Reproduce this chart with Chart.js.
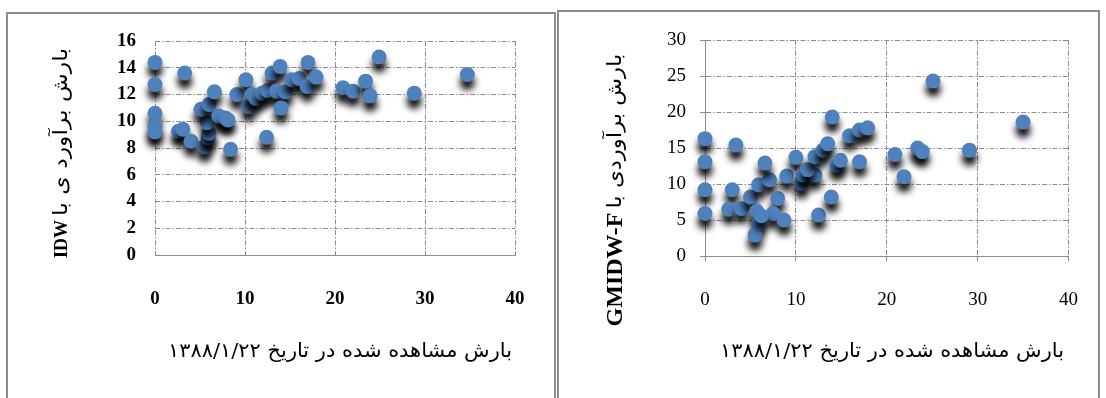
<!DOCTYPE html>
<html>
<head>
<meta charset="utf-8">
<script src="https://cdn.jsdelivr.net/npm/chart.js@4"></script>
<style>
    body { margin: 0; background: #fff; width: 1106px; height: 398px; overflow: hidden; position: relative; }
    .frame { position: absolute; border: 2px solid #8c8c8c; box-sizing: border-box; }
    #frame-idw { left: 6px; top: 12px; width: 550px; height: 400px; }
    #frame-gm { left: 557px; top: 10px; width: 543px; height: 400px; }
    canvas { position: absolute; top: 0; }
    #chart-idw { left: 0; }
    #chart-gm { left: 556px; }
</style>
</head>
<body>
<div class="frame" id="frame-idw"></div>
<div class="frame" id="frame-gm"></div>
<canvas id="chart-idw" width="556" height="398"></canvas>
<canvas id="chart-gm" width="550" height="398"></canvas>
<script>
// observed rainfall (x) vs estimated rainfall (y)
const idwObserved = [0, 0, 0, 0, 0, 3.3, 2.6, 3.1, 4.0, 5.5, 5.9, 6.0, 5.8, 5.1, 6.0, 6.6, 7.1, 7.8, 8.1, 8.4,
    9.1, 10.1, 10.4, 10.8, 11.2, 11.9, 12.5, 12.4, 13.0, 13.9, 13.5, 14.5, 14.0, 15.2, 16.0, 17.0, 16.9, 17.9,
    20.9, 22.0, 23.4, 23.9, 24.9, 28.8, 34.7];
const idwEstimated = [14.4, 12.75, 10.6, 9.6, 9.2, 13.6, 9.25, 9.4, 8.5, 8.1, 8.75, 9.1, 9.9, 10.9, 11.25, 12.2, 10.4, 10.25, 10.1, 7.9,
    12.0, 13.1, 11.1, 12.0, 11.7, 12.1, 12.3, 8.8, 13.6, 14.1, 12.25, 12.2, 11.0, 13.1, 13.2, 14.4, 12.6, 13.3,
    12.5, 12.25, 13.0, 11.9, 14.8, 12.1, 13.5];

const gmObserved = [0, 0, 0, 0, 3.4, 3.0, 2.6, 4.0, 5.0, 5.9, 7.1, 6.6, 8.0, 7.5, 8.7, 5.7, 5.9, 5.5, 6.2,
    9.0, 10.0, 10.6, 10.8, 12.1, 11.3, 12.1, 13.0, 13.5, 12.5, 13.9, 14.0, 14.5, 14.9, 15.9, 17.0, 17.9, 17.0,
    20.9, 21.9, 23.4, 23.9, 29.1, 25.1, 35.0];
const gmEstimated = [16.3, 13.1, 9.2, 5.9, 15.4, 9.2, 6.5, 6.6, 8.2, 9.9, 10.6, 12.9, 8.0, 5.9, 5.0, 6.2, 4.5, 2.9, 5.6,
    11.1, 13.7, 10.1, 11.25, 11.25, 12.0, 13.8, 14.7, 15.6, 5.7, 8.2, 19.3, 12.6, 13.3, 16.7, 17.5, 17.8, 13.1,
    14.1, 11.0, 15.0, 14.5, 14.7, 24.3, 18.6];

const xTicks = [0, 10, 20, 30, 40];
const idwYTicks = [0, 2, 4, 6, 8, 10, 12, 14, 16];
const gmYTicks = [0, 5, 10, 15, 20, 25, 30];

const xTitle = 'بارش مشاهده شده در تاریخ ۱۳۸۸/۱/۲۲';
const idwYTitle = 'بارش برآورد ی با';
const idwYTitleLatin = 'IDW';
const gmYTitle = 'بارش برآوردی با';
const gmYTitleLatin = 'GMIDW-F';

const markerColor = '#4f81bd';
const gridColor = '#8c8c8c';
const gridDash = [5, 2, 1.5, 2];
const tickFont = { family: "'Liberation Serif', 'Times New Roman', serif", size: 19 };
const persianFamily = "'DejaVu Sans'";

function toPoints(xs, ys) {
    return xs.map((x, i) => ({ x: x, y: ys[i] }));
}

// dark drop shadow under the markers, like the Excel 3D style
const shadowPlugin = {
    id: 'markerShadow',
    beforeDatasetsDraw(chart) {
        const ctx = chart.ctx;
        ctx.save();
        ctx.shadowColor = 'rgba(0,0,0,0.95)';
        ctx.shadowBlur = 7;
        ctx.shadowOffsetY = 8;
    },
    afterDatasetsDraw(chart) {
        chart.ctx.restore();
    }
};

// draw rtl persian text stretched to a given length, right end at x
function drawPersian(ctx, text, size, rightX, y, length) {
    ctx.save();
    ctx.font = size + 'px ' + persianFamily;
    ctx.direction = 'rtl';
    ctx.textAlign = 'left';
    const w = ctx.measureText(text).width;
    const sx = length / w;
    ctx.translate(rightX - length, y);
    ctx.scale(sx, 1);
    ctx.fillText(text, 0, 0);
    ctx.restore();
}

// axis titles: rotated y title with bold latin part, rtl x title
const titlePlugin = {
    id: 'axisTitles',
    afterDraw(chart, args, opts) {
        const ctx = chart.ctx;
        ctx.save();
        ctx.fillStyle = '#000';
        ctx.textBaseline = 'middle';

        // x title
        drawPersian(ctx, xTitle, 20, opts.xTitleX + opts.xTitleLen / 2, opts.xTitleY, opts.xTitleLen);

        // y title, reads bottom to top
        ctx.translate(opts.yTitleX, opts.yTitleY);
        ctx.rotate(-Math.PI / 2);
        ctx.font = opts.latinFont;
        ctx.direction = 'ltr';
        ctx.textAlign = 'left';
        const latinW = ctx.measureText(opts.latin).width;
        const gap = 4;
        const total = latinW + gap + opts.persianLen;
        const start = -total / 2;
        ctx.fillText(opts.latin, start, 0);
        drawPersian(ctx, opts.persian, 20, start + total, 0, opts.persianLen);
        ctx.restore();
    }
};

function makeChart(canvasId, xs, ys, yTicks, yMax, padding, solidYBorder, tickWeight, titles) {
    const font = Object.assign({ weight: tickWeight }, tickFont);
    const grid = {
        color: gridColor,
        lineWidth: 1,
        drawTicks: true,
        tickLength: 5,
        tickColor: solidYBorder ? gridColor : 'rgba(0,0,0,0)',
        tickBorderDash: []
    };
    return new Chart(document.getElementById(canvasId), {
        type: 'scatter',
        data: {
            datasets: [{
                data: toPoints(xs, ys),
                backgroundColor: markerColor,
                borderColor: markerColor,
                borderWidth: 0,
                pointRadius: 7.5,
                pointHoverRadius: 7.5,
                clip: false
            }]
        },
        options: {
            responsive: false,
            animation: false,
            events: [],
            layout: { padding: padding },
            plugins: {
                legend: { display: false },
                tooltip: { enabled: false },
                axisTitles: titles
            },
            scales: {
                x: {
                    type: 'linear',
                    min: 0,
                    max: 40,
                    afterBuildTicks: s => { s.ticks = xTicks.map(v => ({ value: v })); },
                    afterFit: s => { s.height = 100; },
                    grid: grid,
                    border: { display: true, color: gridColor, width: 1, dash: gridDash },
                    ticks: { color: '#000', font: font, padding: 28, maxRotation: 0 }
                },
                y: {
                    type: 'linear',
                    min: 0,
                    max: yMax,
                    afterBuildTicks: s => { s.ticks = yTicks.map(v => ({ value: v })); },
                    afterFit: s => { s.width = 60; },
                    grid: grid,
                    border: { display: solidYBorder, color: gridColor, width: 1, dash: gridDash },
                    ticks: { color: '#000', font: font, padding: 14 }
                }
            }
        },
        plugins: [shadowPlugin, titlePlugin]
    });
}

makeChart('chart-idw', idwObserved, idwEstimated, idwYTicks, 16,
    { left: 95, right: 41, top: 41, bottom: 43 }, false, 'bold',
    {
        xTitleX: 340, xTitleY: 352, xTitleLen: 344,
        yTitleX: 62, yTitleY: 153, latin: idwYTitleLatin, latinFont: "bold 18px 'Liberation Serif'",
        persian: idwYTitle, persianLen: 168
    });

makeChart('chart-gm', gmObserved, gmEstimated, gmYTicks, 30,
    { left: 89, right: 28, top: 40, bottom: 42 }, true, 'normal',
    {
        xTitleX: 336, xTitleY: 352, xTitleLen: 344,
        yTitleX: 60, yTitleY: 190, latin: gmYTitleLatin, latinFont: "bold 24px 'Liberation Serif'",
        persian: gmYTitle, persianLen: 155
    });
</script>
</body>
</html>
